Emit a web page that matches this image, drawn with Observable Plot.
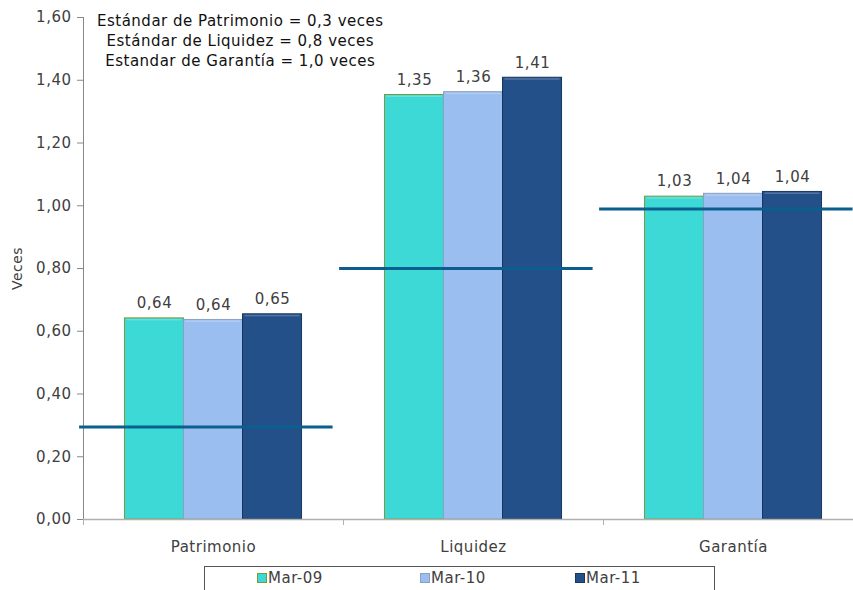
<!DOCTYPE html>
<html>
<head>
<meta charset="utf-8">
<script src="https://cdn.jsdelivr.net/npm/d3@7"></script>
<script src="https://cdn.jsdelivr.net/npm/@observablehq/plot@0.6"></script>
<style>
  html, body { margin: 0; padding: 0; background: #fff; }
  body { width: 853px; height: 590px; overflow: hidden; font-family: "DejaVu Sans", Verdana, sans-serif; }
  #chart svg { overflow: hidden; }
  #chart text { letter-spacing: 0.5px; }
  #legend { position: absolute; left: 204px; top: 566px; width: 511px; height: 30px; border: 1px solid #555; box-sizing: border-box; font-size: 15px; letter-spacing: 0.5px; color: #404040; }
  #legend .item { position: absolute; top: 2px; display: flex; align-items: center; }
  #legend .sw { width: 10px; height: 10px; margin-right: 1px; box-sizing: border-box; }
</style>
</head>
<body>
<div id="chart"></div>
<div id="legend"></div>
<script>
const categories = ["Patrimonio", "Liquidez", "Garantía"];
const seriesNames = ["Mar-09", "Mar-10", "Mar-11"];
const mar09 = [0.641, 1.353, 1.029];
const mar10 = [0.636, 1.362, 1.038];
const mar11 = [0.654, 1.408, 1.044];
const standards = [0.295, 0.80, 0.99];
const annotation = [
  "Estándar de Patrimonio = 0,3 veces",
  "Estándar de Liquidez = 0,8 veces",
  "Estandar de Garantía = 1,0 veces"
];
const yTicks = [0, 0.2, 0.4, 0.6, 0.8, 1.0, 1.2, 1.4, 1.6];

const fills = ["#3cd9d6", "#9bbef0", "#24508a"];
const strokes = ["#7a9a3a", "#8aa0c0", "#17375e"];
const fmt = v => v.toFixed(2).replace(".", ",");

const allSeries = [mar09, mar10, mar11];
const barW = 0.227;
const bars = [];
categories.forEach((c, i) => {
  allSeries.forEach((vals, s) => {
    const cx = i + 0.5 + (s - 1) * barW;
    bars.push({cat: c, series: seriesNames[s], s, value: vals[i], x1: cx - barW / 2, x2: cx + barW / 2, xc: cx});
  });
});
const stdRows = categories.map((c, i) => ({cat: c, value: standards[i], x1: i - 0.015, x2: i + 0.96}));
const catRows = categories.map((c, i) => ({cat: c, x: i + 0.5}));
const catEdges = [0, 1, 2, 3];

const chart = Plot.plot({
  width: 853,
  height: 566,
  marginLeft: 83,
  marginRight: 0,
  marginTop: 17,
  marginBottom: 47,
  style: {fontFamily: "'DejaVu Sans', Verdana, sans-serif", fontSize: "15px", color: "#404040", background: "#fff"},
  x: {type: "linear", domain: [0, 3], range: [83, 863], axis: null},
  y: {type: "linear", domain: [0, 1.6], axis: null},
  color: {domain: seriesNames, range: fills},
  marks: [
    // y axis
    Plot.ruleX([0], {y1: 0, y2: 1.6, stroke: "#888", strokeWidth: 1}),
    Plot.axisY({ticks: yTicks, tickFormat: fmt, tickSize: 6, tickPadding: 6, stroke: "#888", fill: "#404040", fontSize: 15, label: null}),
    Plot.text(["Veces"], {x: 0, y: 0.8, dx: -66, rotate: -90, fill: "#404040", fontSize: 14}),
    // bars
    Plot.rectY(bars, {x1: "x1", x2: "x2", y1: 0, y2: "value", fill: "series", stroke: d => strokes[d.s], strokeWidth: 1}),
    Plot.rectY(bars, {x1: "x1", x2: "x2", y1: d => d.value - 0.008, y2: "value", fill: "#fff", fillOpacity: 0.22, insetLeft: 2, insetRight: 2, insetTop: 1}),
    // value labels
    Plot.text(bars, {x: "xc", y: "value", text: d => fmt(d.value), dy: -15, fill: "#404040", fontSize: 15}),
    // standard lines
    Plot.ruleY(stdRows, {x1: "x1", x2: "x2", y: "value", stroke: "#0a5f8e", strokeWidth: 3}),
    // x axis baseline and category boundary ticks
    Plot.ruleY([0], {x1: 0, x2: 3, stroke: "#b0b0b0", strokeWidth: 1.5}),
    Plot.ruleX(catEdges, {x: d => d, y1: 0, y2: 0, insetBottom: -6, stroke: "#b0b0b0"}),
    Plot.text(catRows, {x: "x", y: 0, text: "cat", dy: 28, fill: "#404040", fontSize: 15}),
    // annotation
    Plot.text([annotation.join("\n")], {x: 0.603, y: 1.6, text: d => d, lineAnchor: "top", dy: -6, lineHeight: 1.33, fill: "#111", fontSize: 15})
  ]
});
document.getElementById("chart").appendChild(chart);

const legend = document.getElementById("legend");
const lx = [52, 215, 370];
seriesNames.forEach((n, i) => {
  const it = document.createElement("div");
  it.className = "item";
  it.style.left = lx[i] + "px";
  it.innerHTML = `<span class="sw" style="background:${fills[i]};border:1px solid ${strokes[i]}"></span><span>${n}</span>`;
  legend.appendChild(it);
});
</script>
</body>
</html>
